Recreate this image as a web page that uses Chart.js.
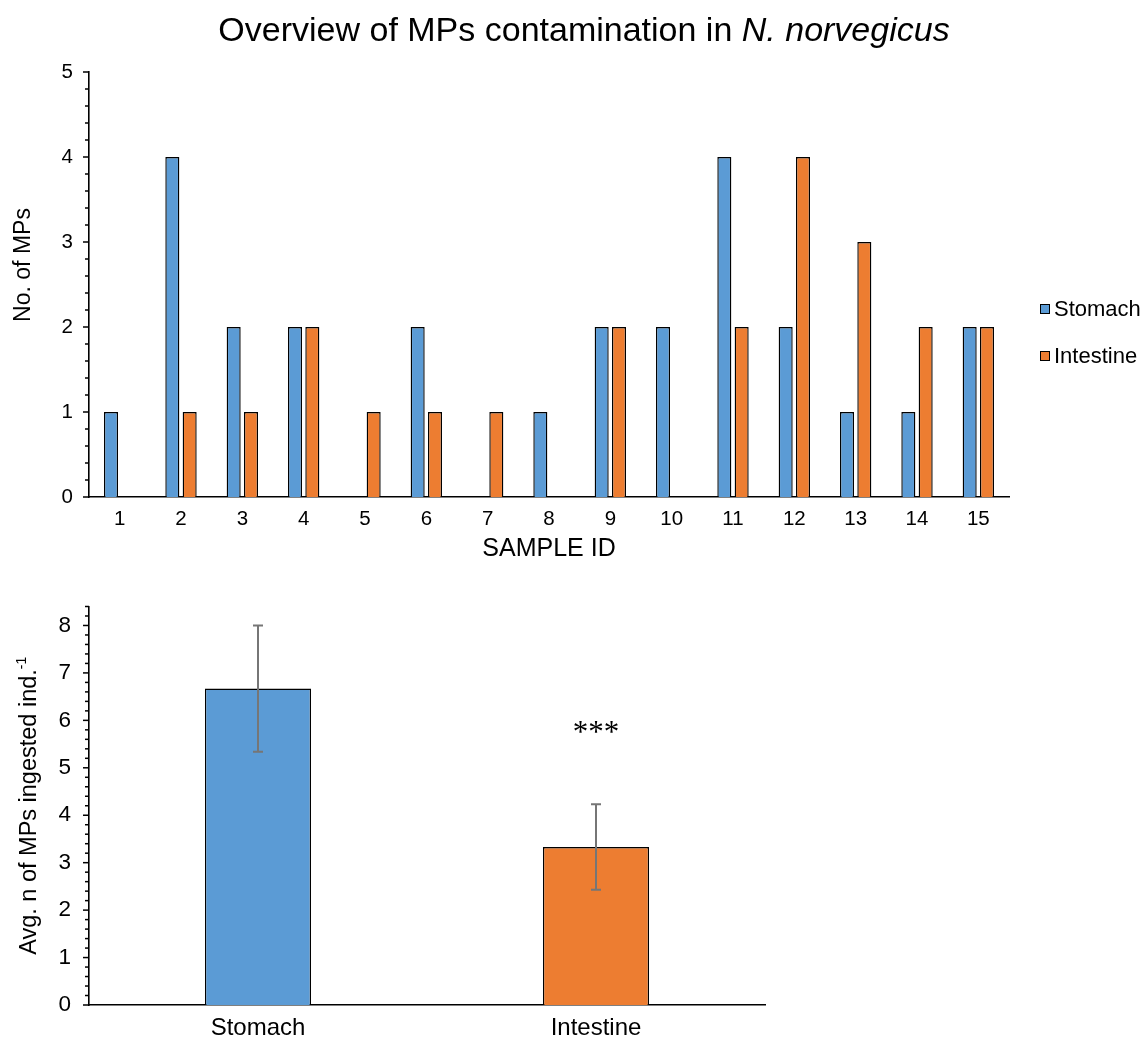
<!DOCTYPE html>
<html>
<head>
<meta charset="utf-8">
<title>Overview of MPs contamination in N. norvegicus</title>
<script src="https://cdn.jsdelivr.net/npm/chart.js@4.4.1/dist/chart.umd.min.js"></script>
<style>
  html, body { margin: 0; padding: 0; background: #fff; }
  #wrap { position: relative; width: 1148px; height: 1039px; overflow: hidden; }
  #countsChart { position: absolute; left: 0; top: 0; }
  #avgChart { position: absolute; left: 0; top: 575px; }
</style>
</head>
<body>
<div id="wrap">
  <canvas id="countsChart" width="1148" height="575"></canvas>
  <canvas id="avgChart" width="1148" height="464"></canvas>
</div>
<script>
// ---- data: MPs counted per sample ----
const sampleIds = ['1', '2', '3', '4', '5', '6', '7', '8', '9', '10', '11', '12', '13', '14', '15'];
const stomachCounts   = [1, 4, 2, 2, 0, 2, 0, 1, 2, 2, 4, 2, 1, 1, 2];
const intestineCounts = [0, 1, 1, 2, 1, 1, 1, 0, 2, 0, 2, 4, 3, 2, 2];

// ---- data: average MPs ingested per individual ----
const organs = ['Stomach', 'Intestine'];
const avgStomach   = [6.67, null];
const avgIntestine = [null, 3.33];
const avgError     = [1.33, 0.90];
const significance = ['', '***'];
const significanceLevel = [null, 5.8];

const SANS = "'Liberation Sans', Arial, Helvetica, sans-serif";
const SERIF = "'Liberation Serif', 'Times New Roman', serif";
const BLUE = '#5B9BD5';
const ORANGE = '#ED7D31';

function isWhole(v) { return Math.abs(v - Math.round(v)) < 1e-6; }

// major / minor tick marks on the left axis
const yTickMarks = {
  id: 'yTickMarks',
  afterDraw(chart, args, opts) {
    const s = chart.scales.y, ctx = chart.ctx;
    ctx.save();
    ctx.strokeStyle = '#000';
    ctx.lineWidth = 1.5;
    s.ticks.forEach(t => {
      const y = s.getPixelForValue(t.value);
      const len = isWhole(t.value) ? opts.major : opts.minor;
      ctx.beginPath();
      ctx.moveTo(s.right, y);
      ctx.lineTo(s.right - len, y);
      ctx.stroke();
    });
    ctx.restore();
  }
};

// legend with square swatches, listed vertically at the right
const sideLegend = {
  id: 'sideLegend',
  afterDraw(chart, args, opts) {
    const ctx = chart.ctx;
    ctx.save();
    ctx.font = opts.size + 'px ' + SANS;
    ctx.textBaseline = 'middle';
    ctx.textAlign = 'left';
    chart.data.datasets.forEach((ds, i) => {
      const cy = opts.y + i * opts.gap;
      ctx.fillStyle = ds.backgroundColor;
      ctx.fillRect(opts.x, cy - opts.box / 2, opts.box, opts.box);
      ctx.strokeStyle = '#000';
      ctx.lineWidth = 1;
      ctx.strokeRect(opts.x + 0.5, cy - opts.box / 2 + 0.5, opts.box - 1, opts.box - 1);
      ctx.fillStyle = '#000';
      ctx.fillText(ds.label, opts.x + opts.box + opts.textGap, cy + 1);
    });
    ctx.restore();
  }
};

// chart title (species name in italics) and axis titles
const countsText = {
  id: 'countsText',
  afterDraw(chart) {
    const ctx = chart.ctx, a = chart.chartArea;
    ctx.save();
    ctx.fillStyle = '#000';
    ctx.textBaseline = 'alphabetic';
    const plain = 'Overview of MPs contamination in ';
    const ital = 'N. norvegicus';
    const fPlain = '34px ' + SANS, fItal = 'italic 34px ' + SANS;
    ctx.font = fPlain; const w1 = ctx.measureText(plain).width;
    ctx.font = fItal; const w2 = ctx.measureText(ital).width;
    const x0 = 584 - (w1 + w2) / 2;
    ctx.textAlign = 'left';
    ctx.font = fPlain; ctx.fillText(plain, x0, 41);
    ctx.font = fItal; ctx.fillText(ital, x0 + w1, 41);

    ctx.font = '25px ' + SANS;
    ctx.textAlign = 'center';
    ctx.textBaseline = 'middle';
    ctx.fillText('SAMPLE ID', (a.left + a.right) / 2, a.bottom + 52);

    ctx.font = '23px ' + SANS;
    ctx.translate(24, 265);
    ctx.rotate(-Math.PI / 2);
    ctx.fillText('No. of MPs', 0, 0);
    ctx.restore();
  }
};

// error bars, significance mark and the y-axis title of the averages chart
const avgExtras = {
  id: 'avgExtras',
  afterDatasetsDraw(chart) {
    const ctx = chart.ctx, y = chart.scales.y, x = chart.scales.x;
    ctx.save();
    ctx.strokeStyle = '#767676';
    ctx.lineWidth = 2;
    organs.forEach((org, i) => {
      let v = null, cx = null;
      chart.data.datasets.forEach((ds, di) => {
        if (ds.data[i] !== null && ds.data[i] !== undefined) {
          v = ds.data[i];
          cx = chart.getDatasetMeta(di).data[i].x;
        }
      });
      if (v === null) return;
      const top = y.getPixelForValue(v + avgError[i]);
      const bot = y.getPixelForValue(v - avgError[i]);
      ctx.beginPath();
      ctx.moveTo(cx, top); ctx.lineTo(cx, bot);
      ctx.moveTo(cx - 5, top); ctx.lineTo(cx + 5, top);
      ctx.moveTo(cx - 5, bot); ctx.lineTo(cx + 5, bot);
      ctx.stroke();
    });

    ctx.fillStyle = '#000';
    ctx.font = '31px ' + SERIF;
    ctx.textAlign = 'center';
    ctx.textBaseline = 'middle';
    significance.forEach((s, i) => {
      if (!s) return;
      ctx.fillText(s, x.getPixelForValue(i), y.getPixelForValue(significanceLevel[i]) + 4);
    });
    ctx.restore();
  },
  afterDraw(chart) {
    const ctx = chart.ctx, a = chart.chartArea;
    ctx.save();
    ctx.fillStyle = '#000';
    ctx.translate(30, (a.top + a.bottom) / 2);
    ctx.rotate(-Math.PI / 2);
    const main = 'Avg. n of MPs ingested ind.';
    const sup = '-1';
    ctx.font = '23.5px ' + SANS;
    const w1 = ctx.measureText(main).width;
    ctx.font = '14px ' + SANS;
    const w2 = ctx.measureText(sup).width;
    const x0 = -(w1 + w2) / 2;
    ctx.textBaseline = 'middle';
    ctx.textAlign = 'left';
    ctx.font = '23.5px ' + SANS;
    ctx.fillText(main, x0, 0);
    ctx.font = '14px ' + SANS;
    ctx.fillText(sup, x0 + w1, -8);
    ctx.restore();
  }
};

const axisBorder = { display: true, color: '#000', width: 1.6 };
const noGrid = { display: false, drawTicks: false };

// ---- top chart: MPs per sample ----
new Chart(document.getElementById('countsChart'), {
  type: 'bar',
  data: {
    labels: sampleIds,
    datasets: [
      { label: 'Stomach', data: stomachCounts, backgroundColor: BLUE, borderColor: '#000', borderWidth: 1.4 },
      { label: 'Intestine', data: intestineCounts, backgroundColor: ORANGE, borderColor: '#000', borderWidth: 1.4 }
    ]
  },
  options: {
    responsive: false,
    animation: false,
    categoryPercentage: 0.565,
    barPercentage: 0.81,
    layout: { padding: { left: 0, top: 72, right: 1148 - 1009, bottom: 575 - 497 - 40 } },
    plugins: {
      legend: { display: false },
      tooltip: { enabled: false },
      yTickMarks: { major: 6, minor: 4 },
      sideLegend: { x: 1040, y: 309, gap: 47, box: 10, textGap: 4, size: 22 }
    },
    scales: {
      x: {
        grid: noGrid,
        border: axisBorder,
        ticks: { color: '#000', font: { family: SANS, size: 20.5 }, padding: 10, autoSkip: false, maxRotation: 0 },
        afterFit(s) { s.height = 40; }
      },
      y: {
        min: 0, max: 5,
        grid: noGrid,
        border: axisBorder,
        ticks: {
          stepSize: 0.2, autoSkip: false, color: '#000', padding: 16,
          font: { family: SANS, size: 20.5 },
          callback: v => isWhole(v) ? String(Math.round(v)) : ''
        },
        afterFit(s) { s.width = 89; }
      }
    }
  },
  plugins: [yTickMarks, sideLegend, countsText]
});

// ---- bottom chart: average MPs per individual ----
new Chart(document.getElementById('avgChart'), {
  type: 'bar',
  data: {
    labels: organs,
    datasets: [
      { label: 'Stomach', data: avgStomach, backgroundColor: BLUE, borderColor: '#000', borderWidth: 1.4 },
      { label: 'Intestine', data: avgIntestine, backgroundColor: ORANGE, borderColor: '#000', borderWidth: 1.4 }
    ]
  },
  options: {
    responsive: false,
    animation: false,
    grouped: false,
    categoryPercentage: 1,
    barPercentage: 0.314,
    layout: { padding: { left: 0, top: 31, right: 1148 - 765, bottom: 0 } },
    plugins: {
      legend: { display: false },
      tooltip: { enabled: false },
      yTickMarks: { major: 6, minor: 4 },
      sideLegend: { x: 781, y: 777, gap: 35, box: 11, textGap: 5, size: 23 }
    },
    scales: {
      x: {
        grid: noGrid,
        border: axisBorder,
        ticks: { color: '#000', font: { family: SANS, size: 24 }, padding: 9, autoSkip: false, maxRotation: 0 },
        afterFit(s) { s.height = 34; }
      },
      y: {
        min: 0, max: 8.4,
        grid: noGrid,
        border: axisBorder,
        ticks: {
          stepSize: 0.2, autoSkip: false, color: '#000', padding: 18,
          font: { family: SANS, size: 22.5 },
          callback: v => isWhole(v) ? String(Math.round(v)) : ''
        },
        afterFit(s) { s.width = 89; }
      }
    }
  },
  plugins: [yTickMarks, sideLegend, avgExtras]
});
</script>
</body>
</html>
